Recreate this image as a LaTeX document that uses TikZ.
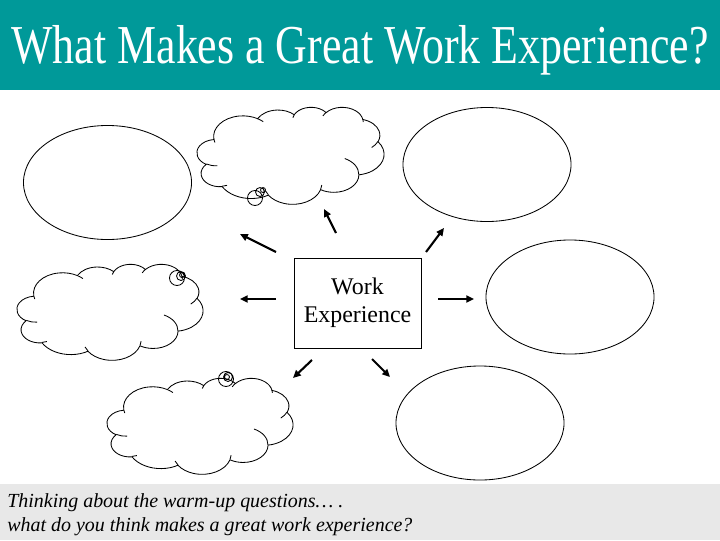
\documentclass[tikz,border=0pt]{standalone}
\usepackage{fontspec}
\usepackage{graphicx}
\setmainfont{Liberation Serif}
\usetikzlibrary{arrows.meta, positioning, shapes.geometric}
\definecolor{wxteal}{HTML}{009999}
\definecolor{wxgray}{HTML}{E8E8E8}

\tikzset{
  cloudline/.style={line width=0.6pt},
  % cloud outline, drawn in a 432 x 432 box, top left at the origin
  thought/.pic={
    \draw[cloudline] (39.00,143.70)
      \foreach \w/\h/\s/\d in {67.53/91.90/-190.487/123.781, 53.33/72.67/-144.102/89.945,
        43.65/59.45/-145.808/99.723, 48.57/65.95/-130.986/117.242, 53.33/72.73/-78.709/109.027,
        67.75/92.20/-46.267/130.269, 57.85/78.67/0.625/114.033, 67.52/92.15/22.452/115.173,
        77.20/105.43/66.243/75.711, 43.60/59.18/-274.942/146.736, 43.45/59.45/-246.829/152.519}
      {arc[x radius=\w, y radius=\h, start angle={pang(\w,\h,\s)}, delta angle={pdel(\w,\h,\s,\d)}]} -- cycle;
    % inner curls
    \foreach \x/\y/\w/\h/\s/\d in {46.93/261.77/43.45/59.45/86.742/26.430, 69.28/348.99/43.60/59.18/73.611/11.448,
        164.78/390.90/67.52/92.15/137.624/14.081, 288.27/347.51/67.52/92.15/6.453/15.998,
        341.29/229.54/57.85/78.67/-70.292/70.917, 417.98/153.54/53.33/72.73/30.318/27.752,
        383.24/54.26/48.57/65.95/-13.744/14.859, 290.78/39.52/48.57/65.95/-149.182/18.195,
        221.41/47.20/43.65/59.45/-163.494/17.686, 140.00/51.92/67.53/91.90/-66.707/12.319,
        41.27/157.89/67.53/91.90/157.654/11.858}
      \draw[cloudline] (\x,\y) arc[x radius=\w, y radius=\h, start angle={pang(\w,\h,\s)}, delta angle={pdel(\w,\h,\s,\d)}];
  }
}

\begin{document}
\begin{tikzpicture}[
  x=0.025cm, y=-0.025cm,
  declare function={
    pang(\w,\h,\t)=atan2(\w*sin(\t),\h*cos(\t));
    pdel(\w,\h,\s,\d)=mod(pang(\w,\h,\s+\d)-pang(\w,\h,\s)+720,360);
  },
  bubble/.style={ellipse, draw, line width=0.6pt, minimum width=4.2cm, minimum height=2.85cm, inner sep=0pt},
  wbox/.style={rectangle, draw, line width=0.6pt, minimum width=3.175cm, minimum height=2.25cm, align=center, inner sep=0pt, font=\fontsize{17}{20}\selectfont},
  arr/.style={-{Triangle[length=5.5pt, width=5pt]}, line width=1.5pt},
]
\useasboundingbox (0,0) rectangle (720,540);

% Title bar
\fill[wxteal] (0,0) rectangle (720,90);
\node[anchor=base, text=white, font=\fontsize{39}{46}\selectfont, inner sep=0pt] (title) at (360,63)
  {\scalebox{0.8}[1]{What Makes a Great Work Experience?}};

% Prompt bar
\fill[wxgray] (0,484) rectangle (720,540);
\node[anchor=base west, font=\itshape\fontsize{14.2}{17}\selectfont, inner sep=0pt] (prompt) at (7,507)
  {Thinking about the warm-up questions… .};
\node[anchor=base west, font=\itshape\fontsize{14.2}{17}\selectfont, inner sep=0pt] (prompt2) at (7,531)
  {what do you think makes a great work experience?};

% Centre
\node[wbox] (work) at (357.5,303) {Work\\Experience};

% Empty ellipses
\node[bubble] (ovtl) at (107.5,182.5) {};
\node[bubble] (ovtr) at (487,164.5) {};
\node[bubble] (ovr) at (570,297) {};
\node[bubble] (ovbr) at (480,423) {};

% Thought clouds
\pic (cltop) [xscale=0.4329, yscale=0.2245] at (197,107) {thought};
\pic (clleft) [xscale=0.4306, yscale=0.2222] at (17,264) {thought};
\pic (clbot) [xscale=0.4306, yscale=0.2222] at (107,378) {thought};

% little tail circles
\draw[cloudline] (255,198) circle[radius=7.5] (260,192) circle[radius=4.5] (263,190) circle[radius=2.5];
\draw[cloudline] (177,278) circle[radius=7.5] (181,276) circle[radius=4.5] (182,275) circle[radius=2.5];
\draw[cloudline] (226,379) circle[radius=7.5] (228,377) circle[radius=4.5] (227,377) circle[radius=2.5];

% Arrow ends
\coordinate (a1s) at (336,233); \coordinate (a1e) at (324,209);
\coordinate (a2s) at (276,252); \coordinate (a2e) at (240,234);
\coordinate (a3s) at (426,252); \coordinate (a3e) at (444,228);
\coordinate (a4s) at (276,299); \coordinate (a4e) at (240,299);
\coordinate (a5s) at (438,299); \coordinate (a5e) at (474,299);
\coordinate (a6s) at (312,360); \coordinate (a6e) at (293,378);
\coordinate (a7s) at (372,359); \coordinate (a7e) at (390,377);

% Arrows
\foreach \i in {1,...,7}
  \draw[arr] (a\i s) -- (a\i e);

\end{tikzpicture}
\end{document}
